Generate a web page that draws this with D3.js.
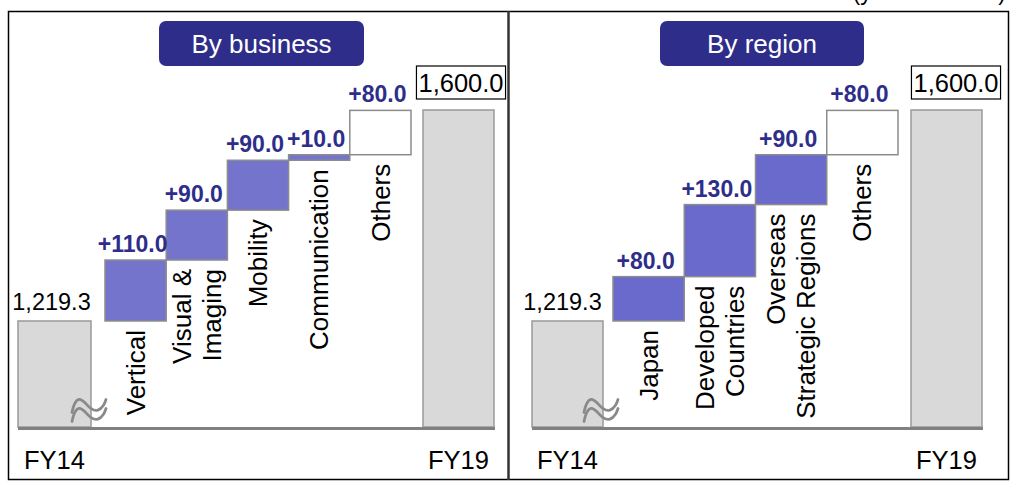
<!DOCTYPE html>
<html>
<head>
<meta charset="utf-8">
<script src="https://cdn.jsdelivr.net/npm/d3@7"></script>
<style>
  html, body { margin: 0; padding: 0; background: #fff; }
  svg { display: block; font-family: "Liberation Sans", Arial, sans-serif; }
</style>
</head>
<body>
<svg id="chart" width="1017" height="489"></svg>
<script>
// ---- data ----
const periods = ["FY14", "FY19"];
const startValue = 1219.3;
const endValue = 1600.0;
const axisFloor = 1028;           // broken-axis floor (value drawn at baseline)
const businessCategories = ["Vertical", "Visual &\nImaging", "Mobility", "Communication", "Others"];
const businessValues = [110.0, 90.0, 90.0, 10.0, 80.0];
const regionCategories = ["Japan", "Developed\nCountries", "Overseas\nStrategic Regions", "Others"];
const regionValues = [80.0, 130.0, 90.0, 80.0];
const panelTitles = ["By business", "By region"];
const unitNote = "(yen in billions)";

// ---- layout ----
const panels = [
  { title: panelTitles[0], cats: businessCategories, vals: businessValues,
    startX: [18, 91], stepX: [105, 411], endX: [423, 494], color: "#7474cc",
    badge: [159, 364], endBoxCx: 461, startLabelDx: -3, breakCx: 89 },
  { title: panelTitles[1], cats: regionCategories, vals: regionValues,
    startX: [532, 603], stepX: [613, 898], endX: [911, 982], color: "#6a6acc",
    badge: [660, 864], endBoxCx: 956, startLabelDx: -5, breakCx: 601 }
];
const navy = "#2e2e8a";
const y = d3.scaleLinear().domain([axisFloor, endValue]).range([427, 110]);
const fmtStart = d3.format(",.1f");
const fmtDelta = v => "+" + d3.format(".1f")(v);

const svg = d3.select("#chart");

// unit note (cut off at the top, as in the source)
svg.append("text").attr("x", 1006).attr("y", 0).attr("text-anchor", "end")
  .attr("font-size", 23).attr("fill", "#000").text(unitNote);

panels.forEach(p => {
  const g = svg.append("g");

  // title badge
  g.append("rect").attr("x", p.badge[0]).attr("y", 21)
    .attr("width", p.badge[1] - p.badge[0]).attr("height", 45)
    .attr("rx", 7).attr("fill", navy);
  g.append("text").attr("x", (p.badge[0] + p.badge[1]) / 2).attr("y", 53)
    .attr("text-anchor", "middle").attr("font-size", 26).attr("fill", "#fff")
    .text(p.title);

  // cumulative steps
  let run = startValue;
  const steps = p.vals.map((v, i) => {
    const s = { cat: p.cats[i], v, lo: run, hi: run + v };
    run += v;
    return s;
  });
  const x = d3.scaleBand().domain(p.cats).range(p.stepX).padding(0);
  const xEnd = d3.scaleOrdinal().domain(periods).range([p.startX, p.endX]);
  const totals = [{ p: periods[0], v: startValue }, { p: periods[1], v: endValue }];

  // total bars
  g.selectAll("rect.total").data(totals).join("rect").attr("class", "total")
    .attr("x", d => xEnd(d.p)[0]).attr("width", d => xEnd(d.p)[1] - xEnd(d.p)[0])
    .attr("y", d => y(d.v)).attr("height", d => y(axisFloor) - y(d.v))
    .attr("fill", "#d9d9d9").attr("stroke", "#999").attr("stroke-width", 1.5);

  // step bars
  const last = steps.length - 1;
  g.selectAll("rect.step").data(steps).join("rect").attr("class", "step")
    .attr("x", d => x(d.cat)).attr("width", x.bandwidth())
    .attr("y", d => y(d.hi)).attr("height", d => y(d.lo) - y(d.hi))
    .attr("fill", (d, i) => i === last ? "#fff" : p.color)
    .attr("stroke", "#8c8c8c").attr("stroke-width", 1.5);

  // baseline
  g.append("line")
    .attr("x1", xEnd(periods[0])[0]).attr("x2", xEnd(periods[1])[1] + 1)
    .attr("y1", y(axisFloor) + 1.5).attr("y2", y(axisFloor) + 1.5)
    .attr("stroke", "#808080").attr("stroke-width", 3);

  // break symbol
  const wave = d3.line().curve(d3.curveBasis);
  [-4.5, 4.5].forEach(dy => {
    const cx = p.breakCx, cy = 410 + dy;
    const pts = [[-17, 7], [-15, -2], [-10, -8], [-4, -3], [2, 4], [9, 6], [15, 0], [17, -6]]
      .map(q => [cx + q[0], cy + q[1]]);
    g.append("path").attr("d", wave(pts)).attr("fill", "none")
      .attr("stroke", "#8a8a8a").attr("stroke-width", 2.8).attr("stroke-linecap", "round");
  });

  // delta labels
  g.selectAll("text.delta").data(steps).join("text").attr("class", "delta")
    .attr("x", d => x(d.cat) + x.bandwidth() / 2 - 3).attr("y", d => y(d.hi) - 8)
    .attr("text-anchor", "middle").attr("font-size", 23).attr("font-weight", "bold")
    .attr("fill", navy).text(d => fmtDelta(d.v));

  // category labels (rotated)
  steps.forEach(d => {
    const lines = d.cat.split("\n");
    const cx = x(d.cat) + x.bandwidth() / 2;
    const top = y(d.lo) + 9;
    const t = g.append("text")
      .attr("transform", `translate(${cx},${top}) rotate(-90)`)
      .attr("text-anchor", "end").attr("font-size", 26).attr("fill", "#000");
    lines.forEach((ln, i) => {
      t.append("tspan").attr("x", 0)
        .attr("y", (i - (lines.length - 1) / 2) * 30)
        .attr("dy", "0.35em").text(ln);
    });
  });

  // start value label
  const s0 = xEnd(periods[0]);
  g.append("text").attr("x", (s0[0] + s0[1]) / 2 + p.startLabelDx).attr("y", y(startValue) - 11)
    .attr("text-anchor", "middle").attr("font-size", 23.5).attr("fill", "#000")
    .text(fmtStart(startValue));

  // end value label in box
  const endT = g.append("text").attr("x", p.endBoxCx).attr("y", 92)
    .attr("text-anchor", "middle").attr("font-size", 25.5).attr("fill", "#000")
    .text(fmtStart(endValue));
  const bb = endT.node().getBBox();
  g.insert("rect", "text:last-child")
    .attr("x", bb.x - 2).attr("y", 66).attr("width", bb.width + 4).attr("height", 33)
    .attr("fill", "#fff").attr("stroke", "#000").attr("stroke-width", 1.2);
  endT.raise();

  // period labels
  g.selectAll("text.period").data(periods).join("text").attr("class", "period")
    .attr("x", d => (xEnd(d)[0] + xEnd(d)[1]) / 2).attr("y", 469)
    .attr("text-anchor", "middle").attr("font-size", 25.5).attr("fill", "#000")
    .text(d => d);
});

// frames
svg.append("rect").attr("x", 8.5).attr("y", 11.5).attr("width", 1000).attr("height", 468)
  .attr("fill", "none").attr("stroke", "#000").attr("stroke-width", 1.5);
svg.append("line").attr("x1", 508.5).attr("x2", 508.5).attr("y1", 11).attr("y2", 480)
  .attr("stroke", "#333").attr("stroke-width", 2.5);
</script>
</body>
</html>
